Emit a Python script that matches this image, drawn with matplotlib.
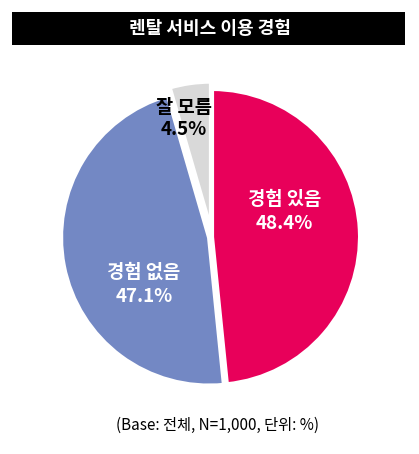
import matplotlib.pyplot as plt
from matplotlib.patches import Rectangle

plt.rcParams['font.family'] = ['Noto Sans CJK KR', 'DejaVu Sans']

title = "렌탈 서비스 이용 경험"
labels = ["경험 있음", "경험 없음", "잘 모름"]
values = [48.4, 47.1, 4.5]
colors = ["#E8005A", "#7388C4", "#D9D9D9"]
note = "(Base: 전체, N=1,000, 단위: %)"

fig = plt.figure(figsize=(4.19, 4.54), dpi=100)
fig.patch.set_facecolor("white")

# title bar
fig.patches.append(Rectangle((0.029, 0.901), 0.938, 0.073, transform=fig.transFigure,
                             facecolor="black", edgecolor="none"))
fig.text(0.5, 0.937, title, color="white", fontsize=13, fontweight="bold",
         ha="center", va="center")

# pie: centre ~(212,237)px, radius ~148px
ax = fig.add_axes([(212 - 151) / 419, (454 - 237 - 151) / 454, 302 / 419, 302 / 454])
ax.pie(values, colors=colors, startangle=90, counterclock=False,
       explode=[0, 0.02, 0.05],
       wedgeprops=dict(edgecolor="white", linewidth=3))
ax.set_xlim(-1.02, 1.02)
ax.set_ylim(-1.02, 1.02)
ax.set_aspect("equal")
ax.axis("off")

ax.text(0.49, 0.17, f"{labels[0]}\n{values[0]}%", color="white", fontsize=13.5,
        fontweight="bold", ha="center", va="center", linespacing=1.35)
ax.text(-0.46, -0.32, f"{labels[1]}\n{values[1]}%", color="white", fontsize=13.5,
        fontweight="bold", ha="center", va="center", linespacing=1.35)
ax.text(-0.19, 0.80, f"{labels[2]}\n{values[2]}%", color="black", fontsize=13.5,
        fontweight="bold", ha="center", va="center", linespacing=1.15)

fig.text(0.52, 0.063, note, fontsize=11, ha="center", va="center")

fig.savefig("out.png", dpi=100)
